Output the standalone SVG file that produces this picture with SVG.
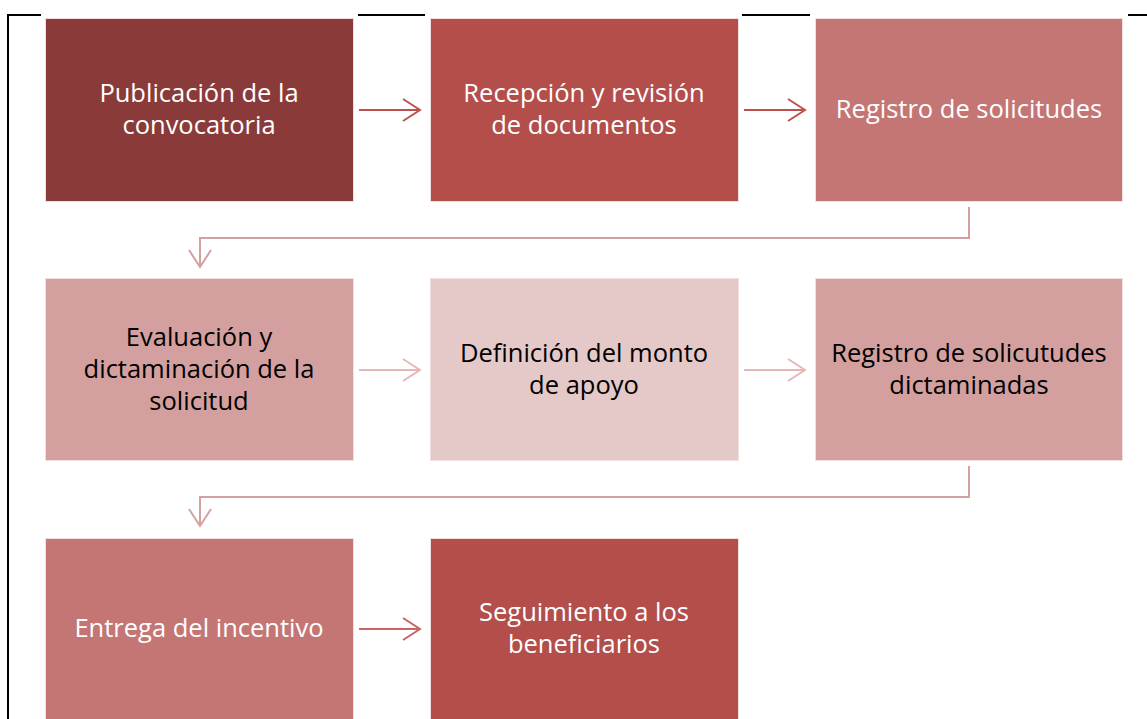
<svg xmlns="http://www.w3.org/2000/svg" width="1147" height="719" viewBox="0 0 1147 719">
<style>
.t{font-family:"Open Sans","Liberation Sans",Arial,sans-serif;font-size:25.5px;fill:#ffffff;text-anchor:middle}
.t2{font-family:"Open Sans","Liberation Sans",Arial,sans-serif;font-size:25.5px;fill:#000000;text-anchor:middle}
.b{stroke:#f2e0e0;stroke-width:1}
.c{fill:none;stroke-width:2;stroke-linejoin:miter}
</style>
<rect width="1147" height="719" fill="#ffffff"/>
<g id="frame" stroke="#000" stroke-width="2" fill="none">
<path d="M8 719 V15 H41"/>
<path d="M358 15 H425"/>
<path d="M742 15 H810"/>
<path d="M1128 15 H1147"/>
</g>
<g id="connectors">
<g class="c" stroke="#C0504D">
<path d="M359 110 H420 M403 99 L420 110 L403 121"/>
<path d="M744 110 H805 M788 99 L805 110 L788 121"/>
</g>
<g class="c" stroke="#D4A09F">
<path d="M969 207 V238 H200 V267 M189 250 L200 267 L211 250"/>
<path d="M969 466 V497 H200 V526 M189 509 L200 526 L211 509"/>
</g>
<g class="c" stroke="#E5B8B7">
<path d="M359 370 H420 M403 359 L420 370 L403 381"/>
<path d="M744 370 H805 M788 359 L805 370 L788 381"/>
</g>
<g class="c" stroke="#C96462">
<path d="M359 629 H420 M403 618 L420 629 L403 640"/>
</g>
</g>
<g id="n1"><rect class="b" x="45.5" y="18.5" width="308" height="183" fill="#8B3A3A"/><text class="t" x="199" y="102">Publicación de la</text><text class="t" x="199" y="134">convocatoria</text></g>
<g id="n2"><rect class="b" x="430.5" y="18.5" width="308" height="183" fill="#B34E4B"/><text class="t" x="584" y="102">Recepción y revisión</text><text class="t" x="584" y="134">de documentos</text></g>
<g id="n3"><rect class="b" x="815.5" y="18.5" width="307" height="183" fill="#C37674"/><text class="t" x="969" y="118">Registro de solicitudes</text></g>
<g id="n4"><rect class="b" x="45.5" y="278.5" width="308" height="182" fill="#D4A09F"/><text class="t2" x="199" y="346">Evaluación y</text><text class="t2" x="199" y="378">dictaminación de la</text><text class="t2" x="199" y="410">solicitud</text></g>
<g id="n5"><rect class="b" x="430.5" y="278.5" width="308" height="182" fill="#E5C8C8"/><text class="t2" x="584" y="362">Definición del monto</text><text class="t2" x="584" y="394">de apoyo</text></g>
<g id="n6"><rect class="b" x="815.5" y="278.5" width="307" height="182" fill="#D4A09F"/><text class="t2" x="969" y="362">Registro de solicutudes</text><text class="t2" x="969" y="394">dictaminadas</text></g>
<g id="n7"><rect class="b" x="45.5" y="538.5" width="308" height="190" fill="#C37674"/><text class="t" x="199" y="637">Entrega del incentivo</text></g>
<g id="n8"><rect class="b" x="430.5" y="538.5" width="308" height="190" fill="#B34E4B"/><text class="t" x="584" y="621">Seguimiento a los</text><text class="t" x="584" y="653">beneficiarios</text></g>
</svg>
